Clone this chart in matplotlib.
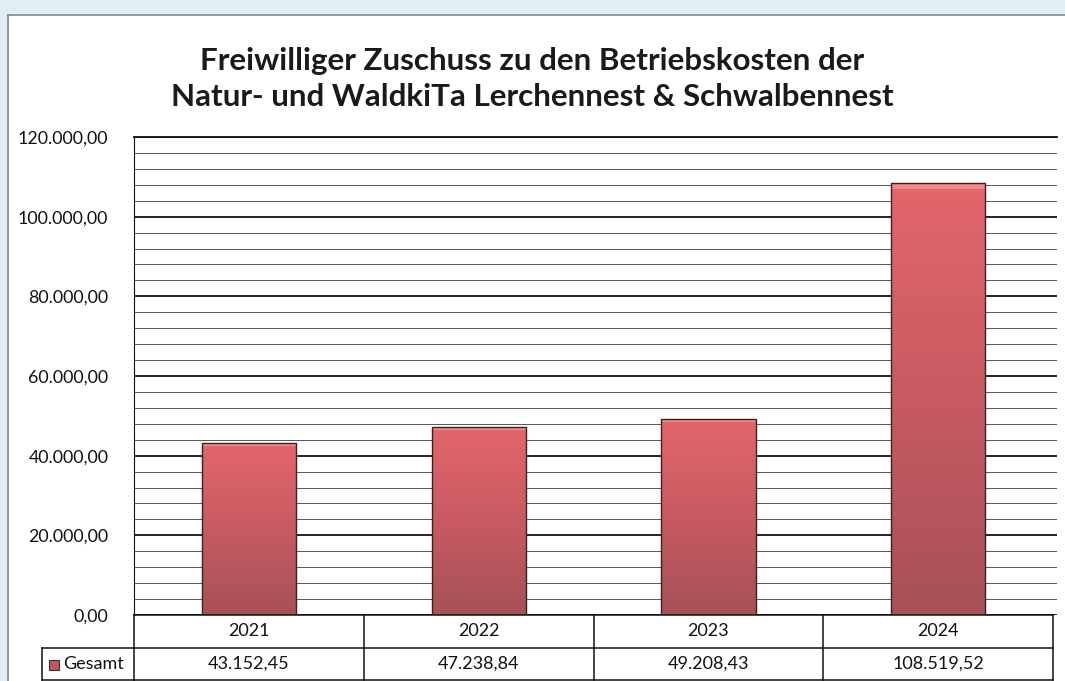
import matplotlib
matplotlib.use("Agg")
import matplotlib.pyplot as plt
import numpy as np
from matplotlib.colors import LinearSegmentedColormap
from matplotlib.lines import Line2D
from matplotlib.patches import Rectangle

years = ["2021", "2022", "2023", "2024"]
values = [43152.45, 47238.84, 49208.43, 108519.52]
value_labels = ["43.152,45", "47.238,84", "49.208,43", "108.519,52"]
y_ticks = [0, 20000, 40000, 60000, 80000, 100000, 120000]
y_tick_labels = ["0,00", "20.000,00", "40.000,00", "60.000,00", "80.000,00", "100.000,00", "120.000,00"]
series_name = "Gesamt"
title = "Freiwilliger Zuschuss zu den Betriebskosten der\nNatur- und WaldkiTa Lerchennest & Schwalbennest"

FONT = ["Lato", "DejaVu Sans"]
plt.rcParams['font.family'] = FONT

W, H = 1065, 681
fig = plt.figure(figsize=(W / 100, H / 100), dpi=100)

def fx(px):
    return px / W

def fy(py):
    return 1 - py / H

ax_left, ax_right, ax_top, ax_bot = 134, 1057, 137, 615
ax = fig.add_axes([fx(ax_left), fy(ax_bot), fx(ax_right - ax_left), (ax_bot - ax_top) / H])

x = np.arange(len(years))
bars = ax.bar(x, values, width=0.41, color="none", edgecolor="#3a2020", linewidth=1.0, zorder=3)

cmap = LinearSegmentedColormap.from_list("barg", ["#a65158", "#c85a62", "#e3666c"])
grad = np.linspace(0, 1, 256).reshape(-1, 1)
for b in bars:
    bx, by = b.get_x(), b.get_y()
    bw, bh = b.get_width(), b.get_height()
    im = ax.imshow(grad, cmap=cmap, aspect="auto", origin="lower",
                   extent=[bx, bx + bw, by, by + bh], zorder=2)
    im.set_clip_path(b)
    ax.add_patch(Rectangle((bx, by + bh * 0.985), bw, bh * 0.015, color="#ef8a86", zorder=2.5, lw=0))

ax.set_xlim(-0.5, len(years) - 0.5 + 0.017)
ax.set_ylim(0, 120000)
ax.set_yticks(y_ticks)
ax.set_yticklabels(y_tick_labels, fontsize=12.8, color="#111111")
ax.set_yticks(np.arange(0, 120001, 4000), minor=True)
ax.tick_params(axis="y", which="both", length=0, pad=18.5)
ax.set_xticks([])
ax.grid(axis="y", which="major", color="#111111", linewidth=1.3, zorder=1)
ax.grid(axis="y", which="minor", color="#555555", linewidth=0.7, zorder=1)
for s in ["right", "bottom"]:
    ax.spines[s].set_visible(False)
ax.spines["left"].set_color("#111111")
ax.spines["top"].set_color("#111111")
ax.spines["top"].set_linewidth(1.3)

# data table drawn under the axis
trans = ax.get_xaxis_transform()
row1_y = -33 / (ax_bot - ax_top)
row2_y = -65 / (ax_bot - ax_top)
xmin, xmax = -0.5, len(years) - 0.5
lc = "#111111"
for yy in [0, row1_y, row2_y]:
    ax.add_line(Line2D([xmin, xmax], [yy, yy], transform=trans, color=lc, lw=1.1, clip_on=False))
for i in range(len(years) + 1):
    ax.add_line(Line2D([xmin + i, xmin + i], [0, row2_y], transform=trans, color=lc, lw=1.1, clip_on=False))
for i, (yr, vl) in enumerate(zip(years, value_labels)):
    ax.text(i, row1_y / 2, yr, transform=trans, ha="center", va="center", fontsize=13, color="#111111")
    ax.text(i, (row1_y + row2_y) / 2, vl, transform=trans, ha="center", va="center", fontsize=13, color="#111111")

# legend key cell
fig.add_artist(Line2D([fx(42), fx(134)], [fy(648), fy(648)], color=lc, lw=1.1))
fig.add_artist(Line2D([fx(42), fx(134)], [fy(680), fy(680)], color=lc, lw=1.1))
fig.add_artist(Line2D([fx(42), fx(42)], [fy(648), fy(680)], color=lc, lw=1.1))
fig.add_artist(Rectangle((fx(49), fy(670)), fx(10), 10 / H, facecolor="#c9555c", edgecolor="#333333", lw=0.8))
fig.text(fx(63), fy(664), series_name, ha="left", va="center", fontsize=13, color="#111111")

# frame of the scanned chart
fig.add_artist(Line2D([fx(8), fx(8)], [fy(15), fy(681)], color="#7a8a90", lw=1.2))
fig.add_artist(Line2D([fx(8), fx(1065)], [fy(15), fy(15)], color="#7a8a90", lw=1.2))
fig.add_artist(Rectangle((0, 0), fx(7), 1, facecolor="#e3eef3", lw=0))
fig.add_artist(Rectangle((0, fy(14)), 1, 14 / H, facecolor="#e3eef3", lw=0))

fig.text(0.5, fy(79), title, ha="center", va="center", fontsize=22.6, fontweight="bold",
         color="#1a1a1a", linespacing=1.33)

fig.savefig("out.png", dpi=100)
